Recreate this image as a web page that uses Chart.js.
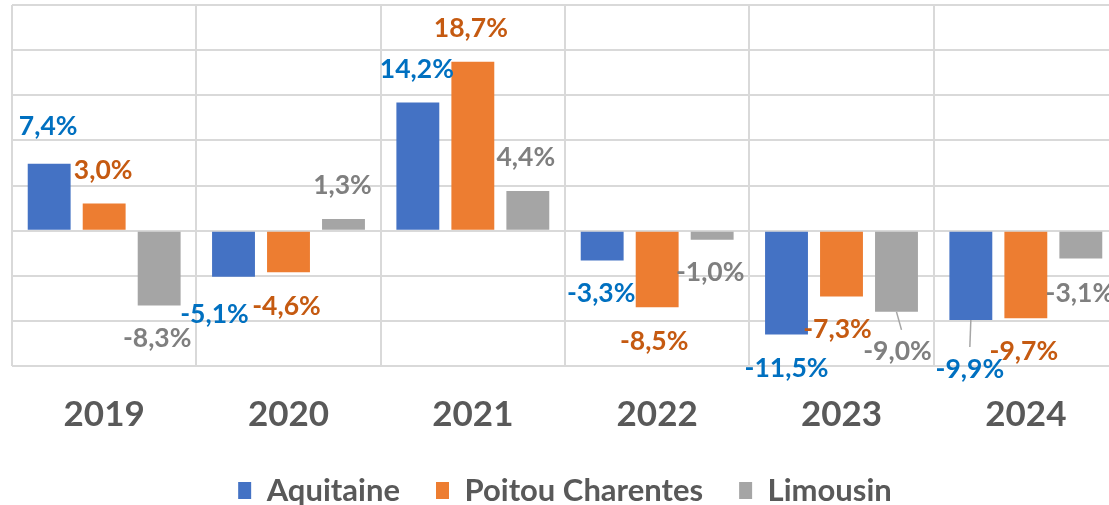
<!DOCTYPE html>
<html>
<head>
<meta charset="utf-8">
<script src="https://cdn.jsdelivr.net/npm/chart.js@4/dist/chart.umd.min.js"></script>
<style>
  html, body { margin: 0; padding: 0; background: #fff; overflow: hidden; }
  #wrap { width: 1130px; height: 505px; position: relative; }
</style>
</head>
<body>
<div id="wrap"><canvas id="chart"></canvas></div>
<script>
const years = ['2019', '2020', '2021', '2022', '2023', '2024'];
const aquitaine = [7.4, -5.1, 14.2, -3.3, -11.5, -9.9];
const poitouCharentes = [3.0, -4.6, 18.7, -8.5, -7.3, -9.7];
const limousin = [-8.3, 1.3, 4.4, -1.0, -9.0, -3.1];
const seriesNames = ['Aquitaine', 'Poitou Charentes', 'Limousin'];
const yTicks = [-15, -10, -5, 0, 5, 10, 15, 20, 25];

const barColors = ['#4472C4', '#ED7D31', '#A5A5A5'];
const labelColors = ['#0070C0', '#C55A11', '#7F7F7F'];
// label nudges [dx, dy] per series / year (Excel hand-placed labels)
const labelNudge = [
    [[-1, -4], [-19, 5], [-1, 0], [-1, 0], [0, 1], [-1, 16]],
    [[-1, 0], [-2, 1], [-2, 0], [-3, 1], [-4, 0], [-2, 0]],
    [[-2, 0], [-1, 0], [-2, 0], [-2, 0], [1, 7], [-1, 2]]
];
// leader lines for detached labels: [series, index]
const leaders = [[0, 5], [2, 4]];

const fmt = (v) => v.toFixed(1).replace('.', ',') + '%';

const labelPlugin = {
    id: 'barLabels',
    afterDatasetsDraw(chart) {
        const ctx = chart.ctx;
        ctx.save();
        ctx.font = 'bold 26.5px Lato';
        ctx.textAlign = 'center';
        ctx.textBaseline = 'middle';
        chart.data.datasets.forEach((ds, di) => {
            const meta = chart.getDatasetMeta(di);
            meta.data.forEach((bar, i) => {
                const v = ds.data[i];
                const [dx, dy] = labelNudge[di][i];
                const x = bar.x + dx;
                const y = (v >= 0 ? bar.y - 33 : bar.y + 33) + dy;
                if (leaders.some((l) => l[0] === di && l[1] === i)) {
                    ctx.strokeStyle = '#A6A6A6';
                    ctx.lineWidth = 1.5;
                    ctx.beginPath();
                    ctx.moveTo(bar.x, bar.y);
                    ctx.lineTo(x + (di === 2 ? 4 : 0), y - 22);
                    ctx.stroke();
                }
                ctx.fillStyle = labelColors[di];
                ctx.fillText(fmt(v), x, y);
            });
        });
        ctx.restore();
    }
};

const series = [aquitaine, poitouCharentes, limousin];

new Chart(document.getElementById('chart').getContext('2d'), {
    type: 'bar',
    data: {
        labels: years,
        datasets: series.map((d, i) => ({
            label: seriesNames[i],
            data: d,
            backgroundColor: barColors[i],
            borderWidth: 0,
            barPercentage: 0.78,
            categoryPercentage: 0.895
        }))
    },
    options: {
        responsive: true,
        maintainAspectRatio: false,
        animation: false,
        layout: { padding: { top: 5, left: 12, right: 12, bottom: -11 } },
        plugins: {
            tooltip: { enabled: false },
            legend: {
                position: 'bottom',
                labels: {
                    boxWidth: 13,
                    boxHeight: 17,
                    padding: 36,
                    color: '#595959',
                    font: { family: 'Lato', size: 31, weight: 'bold' }
                }
            }
        },
        scales: {
            x: {
                grid: { color: '#D9D9D9', lineWidth: 2, drawTicks: false, offset: true },
                border: { display: false },
                afterFit: (s) => { s.height -= 25; },
                ticks: {
                    color: '#595959',
                    padding: 28,
                    font: { family: 'Lato', size: 35, weight: 'bold' }
                }
            },
            y: {
                min: yTicks[0],
                max: yTicks[yTicks.length - 1],
                afterBuildTicks: (s) => { s.ticks = yTicks.map((v) => ({ value: v })); },
                grid: { color: '#D9D9D9', lineWidth: 2, drawTicks: false },
                border: { display: false },
                ticks: { display: false }
            }
        }
    },
    plugins: [labelPlugin]
});
</script>
</body>
</html>
